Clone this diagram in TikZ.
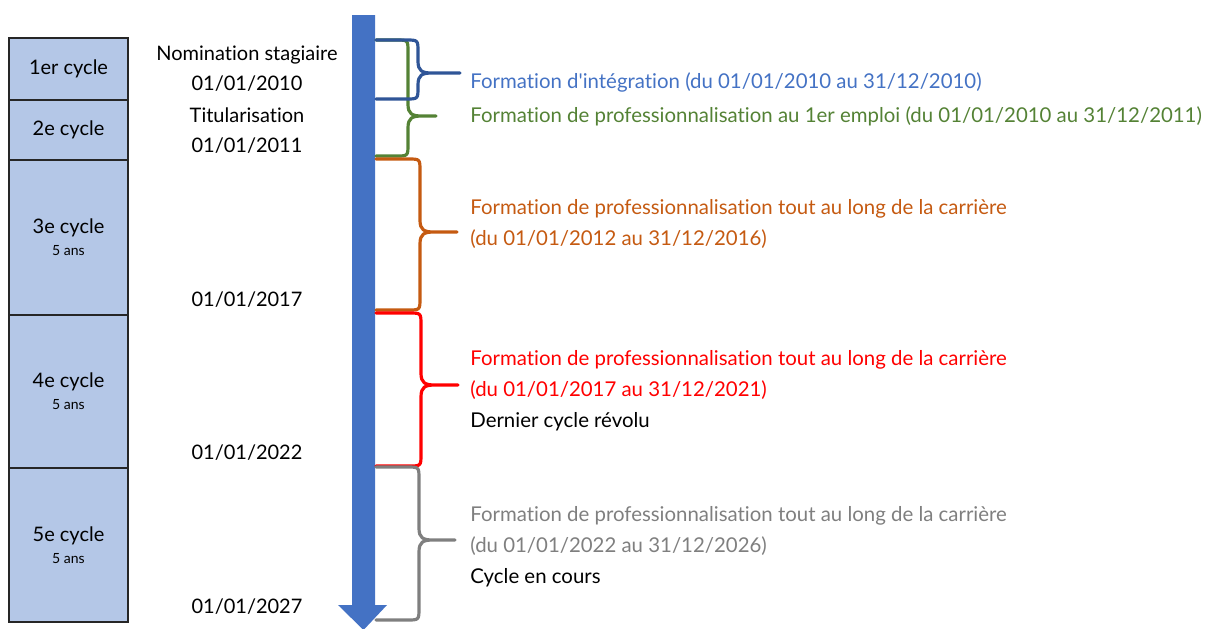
\documentclass[tikz,border=0pt]{standalone}
\usepackage{fontspec}
\setmainfont{Lato}[Ligatures=NoCommon]
\usepackage{tikz}
\usepackage{xcolor}
\usetikzlibrary{positioning,arrows.meta}

\definecolor{boxfill}{HTML}{B4C7E7}
\definecolor{boxline}{HTML}{262626}
\definecolor{arrowblue}{HTML}{4472C4}
\definecolor{bracedblue}{HTML}{2F5597}
\definecolor{formgreen}{HTML}{548235}
\definecolor{formorange}{HTML}{C55A11}
\definecolor{formred}{HTML}{FF0000}
\definecolor{formgray}{HTML}{7F7F7F}

\tikzset{
  cyclebox/.style={draw=boxline, fill=boxfill, line width=0.9pt, minimum width=59.5pt,
    inner sep=0pt, align=center, font=\fontsize{10}{12}\selectfont},
  datelabel/.style={font=\fontsize{10}{12}\selectfont, inner sep=0pt},
  formtext/.style={anchor=west, align=left, inner sep=0pt, font=\fontsize{10.2}{15.5}\selectfont},
  bracepath/.style={line width=1.6pt, line join=round, line cap=round},
}

% #1 colour, #2 top y, #3 tip y, #4 bottom y, #5 brace x, #6 tip x
\newcommand{\cyclebrace}[6]{
  \draw[bracepath, #1] (376,#2) -- ({#5-12},#2) .. controls (#5,#2) .. (#5,{#2+12})
    -- (#5,{#3-12}) .. controls (#5,{#3-2}) and ({#5+4},#3) .. ({#5+14},#3) -- (#6,#3)
    -- ({#5+14},#3) .. controls ({#5+4},#3) and (#5,{#3+2}) .. (#5,{#3+12})
    -- (#5,{#4-12}) .. controls (#5,#4) .. ({#5-12},#4) -- (376,#4);
}

\begin{document}
\begin{tikzpicture}[x=0.5pt, y=-0.5pt]

    \useasboundingbox (0,0) rectangle (1206,628);

    % cycles
    \node[cyclebox, minimum height=31pt]   (c1) at (68.5,69)    {1er cycle};
    \node[cyclebox, minimum height=30pt]   (c2) at (68.5,130)   {2e cycle};
    \node[cyclebox, minimum height=77.5pt] (c3) at (68.5,237.5) {3e cycle\\[-1pt]{\fontsize{7}{8}\selectfont 5 ans}};
    \node[cyclebox, minimum height=76.5pt] (c4) at (68.5,391.5) {4e cycle\\[-1pt]{\fontsize{7}{8}\selectfont 5 ans}};
    \node[cyclebox, minimum height=77pt]   (c5) at (68.5,545)   {5e cycle\\[-1pt]{\fontsize{7}{8}\selectfont 5 ans}};

    % dates
    \node[datelabel] (d0) at (247,55)  {Nomination stagiaire};
    \node[datelabel] (d1) at (247,84)  {01/01/2010};
    \node[datelabel] (d2) at (247,115) {Titularisation};
    \node[datelabel] (d3) at (247,146) {01/01/2011};
    \node[datelabel] (d4) at (247,300) {01/01/2017};
    \node[datelabel] (d5) at (247,453) {01/01/2022};
    \node[datelabel] (d6) at (247,607) {01/01/2027};

    % time axis
    \fill[arrowblue] (352,15) -- (375,15) -- (375,605) -- (387,605) -- (363.5,630)
        -- (338,605) -- (352,605) -- cycle;

    % braces
    \cyclebrace{formgreen}{40}{116}{156}{408}{436}
    \cyclebrace{bracedblue}{40}{73}{99}{418}{460}
    \cyclebrace{formorange}{159}{232}{310}{420}{457}
    \cyclebrace{formred}{313}{385}{466}{421}{458}
    \cyclebrace{formgray}{467}{540}{620}{419}{455}

    % trainings
    \node[formtext, text=arrowblue] (f1) at (470,82)
        {Formation d\textquotesingle intégration (du 01/01/2010 au 31/12/2010)};
    \node[formtext, text=formgreen] (f2) at (470,116)
        {Formation de professionnalisation au 1er emploi (du 01/01/2010 au 31/12/2011)};
    \node[formtext, text=formorange] (f3) at (470,224)
        {Formation de professionnalisation tout au long de la carrière\\(du 01/01/2012 au 31/12/2016)};
    \node[formtext] (f4) at (470,391)
        {\textcolor{formred}{Formation de professionnalisation tout au long de la carrière}\\
         \textcolor{formred}{(du 01/01/2017 au 31/12/2021)}\\Dernier cycle révolu};
    \node[formtext] (f5) at (470,547)
        {\textcolor{formgray}{Formation de professionnalisation tout au long de la carrière}\\
         \textcolor{formgray}{(du 01/01/2022 au 31/12/2026)}\\Cycle en cours};

\end{tikzpicture}
\end{document}
